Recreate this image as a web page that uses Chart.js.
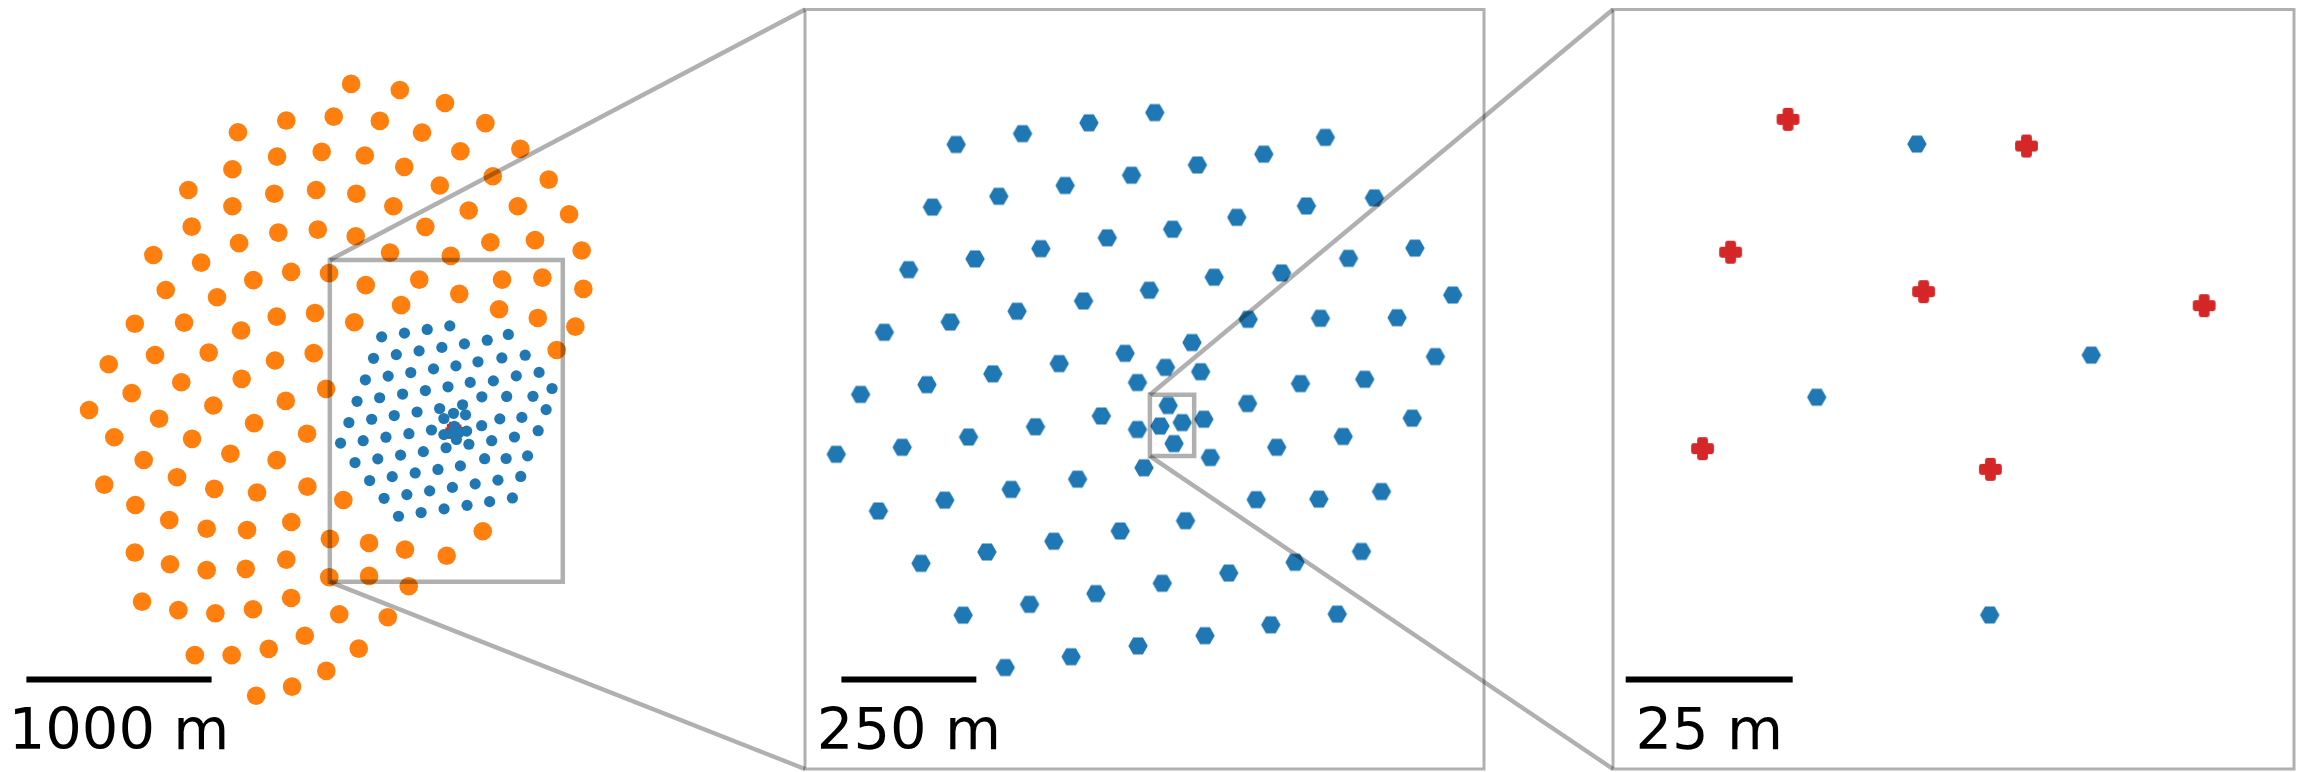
<!DOCTYPE html>
<html>
<head>
<meta charset="utf-8">
<script src="https://cdn.jsdelivr.net/npm/chart.js@4.4.1/dist/chart.umd.min.js"></script>
<style>
  html, body { margin: 0; padding: 0; background: #ffffff; }
  #wrap { position: relative; width: 2300px; height: 772px; overflow: hidden; background: #fff; }
  canvas { position: absolute; top: 0; }
</style>
</head>
<body>
<div id="wrap">
  <canvas id="c1" width="800" height="772" style="left:0px"></canvas>
  <canvas id="c2" width="699" height="772" style="left:795px"></canvas>
  <canvas id="c3" width="697" height="772" style="left:1603px"></canvas>
  <canvas id="ov" width="2300" height="772" style="left:0px;pointer-events:none"></canvas>
</div>
<script>
// ---------------- DATA (metres, common ground frame) ----------------
// Large telescope sites (orange, only in the overview panel)
const orangeSites = [
  [-565,1886],[-302,1853],[-58,1783],[160,1674],[-915,1688],[-659,1709],[-410,1686],[-182,1623],
  [25,1522],[349,1535],[-1176,1625],[-965,1493],[-724,1519],[-491,1499],[-278,1438],[-86,1337],
  [200,1387],[502,1369],[-1206,1425],[-980,1293],[-754,1313],[-537,1293],[-337,1225],[70,1202],
  [335,1225],[612,1182],[-1444,1313],[-1206,1225],[-1426,1115],[-1170,1026],[-958,1083],[-745,1099],
  [-540,1063],[-164,1114],[187,1031],[428,1042],[680,986],[-355,975],[-27,957],[-1633,962],
  [-1375,921],[-1093,826],[-889,871],[-684,864],[-486,799],[-197,829],[19,752],[250,829],
  [468,840],[689,779],[-1566,773],[-1289,734],[-295,691],[234,669],[443,622],[646,575],
  [-1733,591],[-1467,597],[-1159,554],[-967,629],[-760,649],[-548,599],[545,449],[-1874,372],
  [-1624,422],[-1334,435],[-976,392],[-767,432],[-1482,275],[-1156,293],[-700,239],[-1750,216],
  [-1980,125],[-1309,149],[-918,174],[-1602,78],[-1089,54],[-803,-3],[-1844,-22],[-1424,-31],
  [-1217,-111],[-967,-146],[-1685,-145],[-1505,-238],[-1898,-278],[-1304,-301],[-1073,-321],[-801,-289],
  [-607,-361],[-1730,-388],[-1547,-469],[-1345,-516],[-1127,-523],[-888,-480],[146,-530],[-680,-571],
  [-468,-593],[-274,-629],[-49,-662],[-1733,-645],[-1543,-708],[-1345,-740],[-1134,-733],[-915,-683],
  [-683,-778],[-468,-771],[-254,-827],[-1694,-910],[-1498,-956],[-1298,-973],[-1095,-951],[-889,-890],
  [-629,-978],[-367,-994],[-815,-1094],[-1010,-1165],[-1210,-1199],[-1409,-1199],[-524,-1164],[-699,-1284],
  [-884,-1369],[-1078,-1418]
];
// Medium telescope sites (blue)
const blueSites = [
  [-400,520],[-277,540],[-154,560],[-32,579],
  [-444,404],[-321,424],[-198,444],[-75,463],
  [-488,288],[-365,308],[-243,327],[-120,347],[-42,250],
  [-533,172],[-411,191],[-287,211],[-164,230],[-87,133],[-64,79],[-209,114],[-332,95],[-454,75],[-577,57],
  [47,482],[170,502],[284,533],[1,363],[120,385],[249,406],[375,421],[78,274],[203,282],[327,309],[450,328],
  [520,241],[417,199],[275,198],[141,196],[37,153],[-12,107],[53,99],[238,77],[357,85],[488,127],
  [-7.2,36.3],[18.9,4.7],[-22.2,-1.6],[3.7,-34.2],
  [59,11],[140,40],[445,13],[317,-21],[194,-41],[71,-60],[156,-138],[272,-137],[388,-123],[25,-177],
  [351,-234],[228,-254],[105,-274],[-18,-293],[306,-350],[183,-370],[61,-390],
  [-622,-54],[-500,-41],[-377,-22],[-253,-3],[-131,17],[-64,-8],[-52,-79],
  [-544,-159],[-421,-139],[-298,-119],[-175,-100],[-96,-196],[-219,-215],[-343,-235],[-465,-256],
  [-387,-352],[-264,-332],[-141,-312],[-309,-449],[-187,-429],[-63,-409]
];
// Small central cluster (red)
const redSites = [
  [-26.5,40.0],[9.2,36.0],[-35.1,20.1],[-6.2,14.2],[35.8,12.1],[-39.3,-9.3],[3.8,-12.4]
];

// View limits of each panel (metres)
const panel1X = [-2461, 1859], panel1Y = [-1830, 2339];
const panel2X = [-680, 578],   panel2Y = [-637, 770];
const panel3X = [-52.7, 49.25], panel3Y = [-57.26, 56.44];
// Zoom boxes drawn in panel 1 and panel 2 (metres)
const inset1X = [-680, 578], inset1Y = [-803, 935];
const inset2X = [-41, 41],   inset2Y = [-57.3, 56.4];
// Scale bars
const scaleBarLengths = [1000, 250, 25];
const scaleBarLabels = ['1000 m', '250 m', '25 m'];

// ---------------- STYLE ----------------
const ORANGE = '#ff7f0e', BLUE = '#1f77b4', RED = '#d62728';
const GREY = 'rgba(0,0,0,0.31)';
const toXY = arr => arr.map(([x, y]) => ({ x, y }));

function hexMarker(R, color) {
  const s = Math.ceil(R * 2) + 4;
  const c = document.createElement('canvas');
  c.width = c.height = s;
  const g = c.getContext('2d');
  g.fillStyle = color;
  g.beginPath();
  for (let k = 0; k < 6; k++) {
    const a = k * Math.PI / 3;
    g.lineTo(s / 2 + R * Math.cos(a), s / 2 + R * Math.sin(a));
  }
  g.closePath();
  g.fill();
  return c;
}
function plusMarker(h, arm, lw, color) {
  const s = Math.ceil(2 * (h + lw / 2)) + 4;
  const c = document.createElement('canvas');
  c.width = c.height = s;
  const g = c.getContext('2d');
  const o = s / 2;
  const pts = [[-arm,-h],[arm,-h],[arm,-arm],[h,-arm],[h,arm],[arm,arm],[arm,h],[-arm,h],[-arm,arm],[-h,arm],[-h,-arm],[-arm,-arm]];
  g.beginPath();
  pts.forEach(([x, y]) => g.lineTo(o + x, o + y));
  g.closePath();
  g.fillStyle = color; g.strokeStyle = color;
  g.lineWidth = lw; g.lineJoin = 'round';
  g.fill(); g.stroke();
  return c;
}
const hexBlue = hexMarker(9.7, BLUE);
const plusRedBig = plusMarker(9, 3, 4.8, RED);
const plusRedSmall = plusMarker(3, 1, 2, RED);

function scaleBar(len, label, padLeft) {
  return {
    id: 'scalebar',
    afterDatasetsDraw(chart) {
      const { ctx, chartArea, scales: { x } } = chart;
      const w = Math.abs(x.getPixelForValue(x.min + len) - x.getPixelForValue(x.min));
      const x0 = chartArea.left + padLeft;
      ctx.save();
      ctx.fillStyle = '#000';
      ctx.fillRect(x0, 676.5, w, 6);
      ctx.font = '57.5px "DejaVu Sans"';
      ctx.textAlign = 'center';
      ctx.textBaseline = 'alphabetic';
      ctx.fillText(label, x0 + w / 2, 748.5);
      ctx.restore();
    }
  };
}

function makeChart(id, datasets, xr, yr, padding, plugin) {
  return new Chart(document.getElementById(id), {
    type: 'scatter',
    data: { datasets },
    options: {
      responsive: false,
      devicePixelRatio: 1,
      animation: false,
      events: [],
      layout: { autoPadding: false, padding },
      plugins: { legend: { display: false }, tooltip: { enabled: false } },
      scales: {
        x: { type: 'linear', min: xr[0], max: xr[1], display: false, bounds: 'data' },
        y: { type: 'linear', min: yr[0], max: yr[1], display: false, bounds: 'data' }
      }
    },
    plugins: [plugin]
  });
}

// Panel 1: overview
const chart1 = makeChart('c1', [
  { label: 'MST', data: toXY(blueSites), pointStyle: 'circle', pointRadius: 5.6, borderWidth: 0, backgroundColor: BLUE, order: 0 },
  { label: 'SST', data: toXY(redSites), pointStyle: plusRedSmall, pointRadius: 4, borderWidth: 0, backgroundColor: RED, order: 1 },
  { label: 'LST', data: toXY(orangeSites), pointStyle: 'circle', pointRadius: 9.3, borderWidth: 0, backgroundColor: ORANGE, order: 2 }
], panel1X, panel1Y, { left: 0, right: 0, top: 0, bottom: 0 }, scaleBar(scaleBarLengths[0], scaleBarLabels[0], 26.4));

// Panel 2: medium zoom
const chart2 = makeChart('c2', [
  { label: 'MST', data: toXY(blueSites), pointStyle: hexBlue, pointRadius: 9, borderWidth: 0, backgroundColor: BLUE }
], panel2X, panel2Y, { left: 10, right: 10, top: 9.5, bottom: 3 }, scaleBar(scaleBarLengths[1], scaleBarLabels[1], 36.4));

// Panel 3: core zoom
const chart3 = makeChart('c3', [
  { label: 'SST', data: toXY(redSites), pointStyle: plusRedBig, pointRadius: 11, borderWidth: 0, backgroundColor: RED },
  { label: 'MST', data: toXY(blueSites), pointStyle: hexBlue, pointRadius: 9, borderWidth: 0, backgroundColor: BLUE }
], panel3X, panel3Y, { left: 10, right: 6, top: 9.5, bottom: 3 }, scaleBar(scaleBarLengths[2], scaleBarLabels[2], 12.7));

// ---------------- zoom boxes, frames and connectors ----------------
const offsets = { c1: 0, c2: 795, c3: 1603 };
function rectOf(chart, off, xr, yr) {
  const x = chart.scales.x, y = chart.scales.y;
  return {
    l: off + x.getPixelForValue(xr[0]), r: off + x.getPixelForValue(xr[1]),
    t: y.getPixelForValue(yr[1]), b: y.getPixelForValue(yr[0])
  };
}
const box1 = rectOf(chart1, offsets.c1, inset1X, inset1Y);
const frame2 = rectOf(chart2, offsets.c2, panel2X, panel2Y);
const box2 = rectOf(chart2, offsets.c2, inset2X, inset2Y);
const frame3 = rectOf(chart3, offsets.c3, panel3X, panel3Y);

const g = document.getElementById('ov').getContext('2d');
g.strokeStyle = GREY;
function strokeR(r, lw) { g.lineWidth = lw; g.beginPath(); g.rect(r.l, r.t, r.r - r.l, r.b - r.t); g.stroke(); }
function line(x1, y1, x2, y2, lw) { g.lineWidth = lw; g.beginPath(); g.moveTo(x1, y1); g.lineTo(x2, y2); g.stroke(); }
strokeR(frame2, 3);
strokeR(frame3, 3);
strokeR(box1, 4.5);
strokeR(box2, 4.5);
line(box1.l, box1.t, frame2.l, frame2.t, 4.5);
line(box1.l, box1.b, frame2.l, frame2.b, 4.5);
line(box2.l, box2.t, frame3.l, frame3.t, 4.5);
line(box2.l, box2.b, frame3.l, frame3.b, 4.5);
</script>
</body>
</html>
